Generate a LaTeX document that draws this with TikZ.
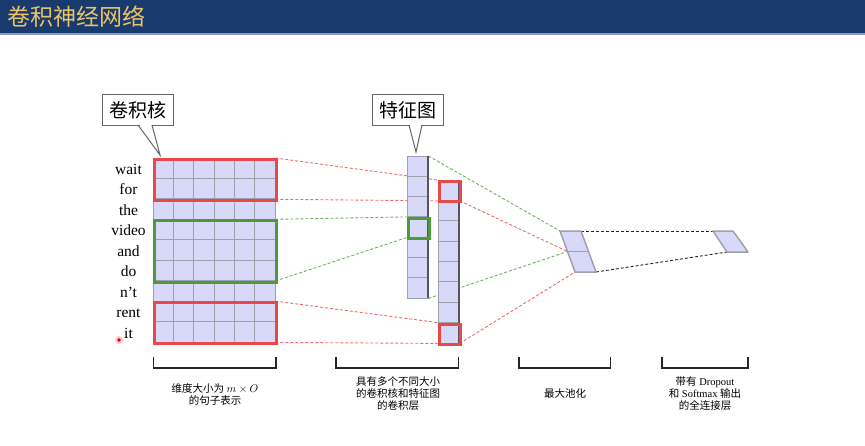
\documentclass[tikz,border=0pt]{standalone}
\usepackage{fontspec}
\usetikzlibrary{calc}
\setmainfont{Liberation Serif}
\newfontfamily\cjk{Noto Sans CJK SC}
\definecolor{barblue}{HTML}{183A6C}
\definecolor{barline}{HTML}{8A9AC0}
\definecolor{titlegold}{HTML}{EBC46A}
\definecolor{cellfill}{HTML}{D8D8F8}
\definecolor{gridgray}{HTML}{A0A0AC}
\definecolor{boxred}{HTML}{E84848}
\definecolor{boxgreen}{HTML}{4C9A3C}
\definecolor{dashred}{HTML}{F06A6A}
\definecolor{dashgreen}{HTML}{6EB05C}
\definecolor{darkedge}{HTML}{555560}
\begin{document}
\begin{tikzpicture}[x=1pt,y=-1pt,
  cellcol/.style={draw=gridgray, fill=cellfill, line width=1pt, inner sep=0pt, anchor=north west},
  gridln/.style={draw=gridgray, line width=1pt},
  redbox/.style={draw=boxred, line width=3pt, inner sep=0pt, anchor=north west},
  greenbox/.style={draw=boxgreen, line width=3pt, inner sep=0pt, anchor=north west},
  reddash/.style={draw=dashred, line width=0.9pt, dash pattern=on 3pt off 2pt},
  greendash/.style={draw=dashgreen, line width=0.9pt, dash pattern=on 3pt off 2pt},
  blackdash/.style={draw=black!85, line width=0.9pt, dash pattern=on 3pt off 2pt},
  edgeln/.style={draw=darkedge, line width=2pt},
  word/.style={font=\fontsize{15.5}{18}\selectfont, anchor=base},
  callout/.style={draw=black!60, line width=1pt, fill=white, inner sep=0pt, anchor=north west, minimum width=71pt, minimum height=31pt, font=\cjk\fontsize{19}{22}\selectfont},
  lbl/.style={align=center, font=\fontsize{10.5}{12}\selectfont, inner sep=0pt},
  brk/.style={draw=black!85, line width=1.8pt},
  para/.style={draw=gridgray, fill=cellfill, line width=1.5pt, line join=round}
]
\useasboundingbox (0,0) rectangle (865,445);
% title bar
\fill[barblue] (0,0) rectangle (865,33);
\fill[barline] (0,33) rectangle (865,35);
\node[anchor=west, text=titlegold, font=\cjk\fontsize{23}{26}\selectfont, inner sep=0pt] (title) at (7,17) {卷积神经网络};

% pooling and fc coordinates
\coordinate (p1) at (560,231);
\coordinate (p2) at (581,231);
\coordinate (p3) at (596,272);
\coordinate (p4) at (575,272);
\coordinate (pm1) at (567.5,251.5);
\coordinate (pm2) at (588.5,251.5);
\coordinate (f1) at (713,231);
\coordinate (f2) at (733,231);
\coordinate (f3) at (748,252);
\coordinate (f4) at (727,252);

% box nodes (for anchors), drawn later
\path (153,158) node[inner sep=0pt, anchor=north west, minimum width=122pt, minimum height=40.9pt] (r1) {};
\path (153,219.3) node[inner sep=0pt, anchor=north west, minimum width=122pt, minimum height=61.3pt] (g1) {};
\path (153,301.1) node[inner sep=0pt, anchor=north west, minimum width=122pt, minimum height=40.9pt] (r2) {};
\path (406.5,216.9) node[inner sep=0pt, anchor=north west, minimum width=21.5pt, minimum height=20.3pt] (gf) {};
\path (437.7,180) node[inner sep=0pt, anchor=north west, minimum width=21.5pt, minimum height=20.4pt] (rf1) {};
\path (437.7,322.6) node[inner sep=0pt, anchor=north west, minimum width=21.5pt, minimum height=20.4pt] (rf2) {};
\path (407,156) node[inner sep=0pt, anchor=north west, minimum width=21pt, minimum height=142pt] (fm1) {};

% connectors (behind)
\draw[reddash] (r1.north east) -- (rf1.north west);
\draw[reddash] (r1.south east) -- (rf1.south west);
\draw[reddash] (r2.north east) -- (rf2.north west);
\draw[reddash] (r2.south east) -- (rf2.south west);
\draw[greendash] (g1.north east) -- (gf.north west);
\draw[greendash] (g1.south east) -- (gf.south west);
\draw[greendash] (fm1.north east) -- (p1);
\draw[greendash] (fm1.south east) -- (pm1);
\draw[reddash] (rf1.south east) -- (pm1);
\draw[reddash] (rf2.south east) -- (p4);
\draw[blackdash] (p2) -- (f1);
\draw[blackdash] (p3) -- (f4);

% sentence matrix
\node[cellcol, minimum width=122pt, minimum height=184pt] (mat) at (153,158) {};
\foreach \i in {1,...,5} \draw[gridln] (153+\i*20.333,158) -- ++(0,184);
\foreach \j in {1,...,8} \draw[gridln] (153,158+\j*20.444) -- ++(122,0);
\node[redbox, minimum width=122pt, minimum height=40.9pt] at (153,158) {};
\node[greenbox, minimum width=122pt, minimum height=61.3pt] at (153,219.3) {};
\node[redbox, minimum width=122pt, minimum height=40.9pt] at (153,301.1) {};

% words
\foreach \w [count=\k from 0] in {wait,for,the,video,and,do,n’t,rent,it}
  \node[word] (w\k) at (128.5,158+\k*20.444+16.5) {\w};

% feature map 1
\node[cellcol, minimum width=21pt, minimum height=142pt] (fmone) at (407,156) {};
\foreach \j in {1,...,6} \draw[gridln] (407,156+\j*20.286) -- ++(21,0);
\draw[edgeln] (427.5,156) -- (427.5,298);
\node[greenbox, minimum width=21.5pt, minimum height=20.3pt] at (406.5,216.9) {};

% feature map 2
\node[cellcol, minimum width=21pt, minimum height=163pt] (fm2) at (438,180) {};
\foreach \j in {1,...,7} \draw[gridln] (438,180+\j*20.375) -- ++(21,0);
\draw[edgeln] (458.5,180) -- (458.5,343);
\node[redbox, minimum width=21.5pt, minimum height=20.4pt] at (437.7,180) {};
\node[redbox, minimum width=21.5pt, minimum height=20.4pt] at (437.7,322.6) {};

% pooling
\draw[para] (p1) -- (p2) -- (p3) -- (p4) -- cycle;
\draw[gridln, line width=1.5pt] (pm1) -- (pm2);
% fully connected
\draw[para] (f1) -- (f2) -- (f3) -- (f4) -- cycle;

% callouts
\node[callout] (c1) at (102,94) {卷积核};
\coordinate (c1a) at (138,125);
\coordinate (c1b) at (152,125);
\coordinate (c1t) at (160,155);
\fill[white] ($(c1a)+(0.8,-1.2)$) -- (c1t) -- ($(c1b)+(-0.8,-1.2)$) -- cycle;
\draw[black!60, line width=1pt] (c1a) -- (c1t) -- (c1b);

\node[callout] (c2) at (372,94) {特征图};
\coordinate (c2a) at (409,125);
\coordinate (c2b) at (422,125);
\coordinate (c2t) at (416,152);
\fill[white] ($(c2a)+(0.8,-1.2)$) -- (c2t) -- ($(c2b)+(-0.8,-1.2)$) -- cycle;
\draw[black!60, line width=1pt] (c2a) -- (c2t) -- (c2b);

% brackets
\draw[brk] (153.5,357) -- (153.5,368) -- (276,368) -- (276,357);
\draw[brk] (336,357) -- (336,368) -- (458.5,368) -- (458.5,357);
\draw[brk] (519,357) -- (519,368) -- (610.5,368) -- (610.5,357);
\draw[brk] (662,357) -- (662,368) -- (748,368) -- (748,357);

% labels
\node[lbl] (l1) at (215,394.5) {{\cjk 维度大小为} $m\times O$\\{\cjk 的句子表示}};
\node[lbl] (l2) at (398,393.5) {{\cjk 具有多个不同大小}\\{\cjk 的卷积核和特征图}\\{\cjk 的卷积层}};
\node[lbl] (l3) at (565,393.5) {{\cjk 最大池化}};
\node[lbl] (l4) at (705,393.5) {{\cjk 带有} Dropout\\{\cjk 和} Softmax {\cjk 输出}\\{\cjk 的全连接层}};

% pointer dot
\fill[red!60, opacity=0.35] (119,340) circle (4pt);
\fill[red!85!black] (119,340) circle (1.8pt);
\end{tikzpicture}
\end{document}
